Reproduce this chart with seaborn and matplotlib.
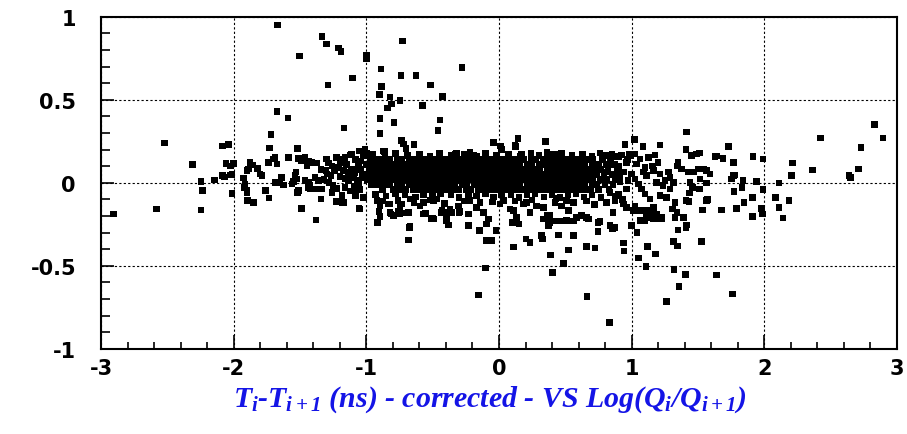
import matplotlib
matplotlib.use("Agg")
import matplotlib.pyplot as plt
from matplotlib.ticker import MultipleLocator, FixedLocator
import seaborn as sns
import pandas as pd

# ---------------- data ----------------
x_ticks = [-3, -2, -1, 0, 1, 2, 3]
x_tick_labels = ["-3", "-2", "-1", "0", "1", "2", "3"]
y_ticks = [-1, -0.5, 0, 0.5, 1]
y_tick_labels = ["-1", "-0.5", "0", "0.5", "1"]
x_label = r"$T_i$-$T_{i+1}$ (ns) - corrected - VS Log($Q_i$/$Q_{i+1}$)"

# dense central band: rows of points (y level -> x positions)
core_rows = {
    0.14: [-0.97, -0.92, -0.87, -0.82, -0.77, -0.73, -0.68, -0.64, -0.59, -0.55, -0.50, -0.46, -0.42, -0.37,
           -0.33, -0.29, -0.24, -0.20, -0.16, -0.11, -0.07, -0.03, 0.02, 0.06, 0.10, 0.15, 0.19, 0.24, 0.28,
           0.33, 0.37, 0.42, 0.46, 0.51, 0.56, 0.61, 0.66, 0.71, 0.78, 0.84],
    0.11: [-1.00, -0.95, -0.91, -0.86, -0.81, -0.77, -0.72, -0.68, -0.63, -0.59, -0.54, -0.50, -0.45, -0.41,
           -0.37, -0.32, -0.28, -0.23, -0.19, -0.15, -0.10, -0.06, -0.02, 0.03, 0.07, 0.12, 0.16, 0.21, 0.25,
           0.30, 0.34, 0.38, 0.43, 0.47, 0.52, 0.56, 0.61, 0.65, 0.70, 0.75, 0.81, 0.87],
    0.08: [-0.98, -0.94, -0.89, -0.84, -0.80, -0.75, -0.71, -0.66, -0.62, -0.57, -0.53, -0.48, -0.44, -0.40,
           -0.35, -0.31, -0.26, -0.22, -0.18, -0.13, -0.09, -0.04, 0.00, 0.05, 0.09, 0.14, 0.18, 0.23, 0.27,
           0.31, 0.36, 0.40, 0.45, 0.49, 0.54, 0.58, 0.63, 0.67, 0.72, 0.77, 0.82, 0.89],
    0.05: [-1.01, -0.96, -0.92, -0.87, -0.83, -0.78, -0.73, -0.69, -0.64, -0.60, -0.55, -0.51, -0.47, -0.42,
           -0.38, -0.33, -0.29, -0.25, -0.20, -0.16, -0.11, -0.07, -0.03, 0.02, 0.06, 0.11, 0.15, 0.20, 0.24,
           0.29, 0.33, 0.38, 0.42, 0.47, 0.51, 0.56, 0.60, 0.65, 0.69, 0.74, 0.79, 0.85, 0.91],
    0.02: [-0.99, -0.95, -0.90, -0.85, -0.81, -0.76, -0.72, -0.67, -0.63, -0.58, -0.54, -0.49, -0.45, -0.41,
           -0.36, -0.32, -0.27, -0.23, -0.19, -0.14, -0.10, -0.05, -0.01, 0.04, 0.08, 0.13, 0.17, 0.22, 0.26,
           0.31, 0.35, 0.39, 0.44, 0.48, 0.53, 0.57, 0.62, 0.66, 0.71, 0.76, 0.81, 0.88],
    -0.01: [-0.96, -0.91, -0.86, -0.82, -0.77, -0.73, -0.68, -0.64, -0.59, -0.55, -0.50, -0.46, -0.41, -0.37,
            -0.33, -0.28, -0.24, -0.19, -0.15, -0.11, -0.06, -0.02, 0.03, 0.07, 0.12, 0.16, 0.21, 0.25, 0.29,
            0.34, 0.38, 0.43, 0.47, 0.52, 0.56, 0.61, 0.65, 0.70, 0.74, 0.80, 0.86],
    -0.04: [-0.88, -0.80, -0.75, -0.70, -0.65, -0.61, -0.56, -0.52, -0.47, -0.43, -0.38, -0.34, -0.30, -0.25,
            -0.21, -0.16, -0.12, -0.08, -0.03, 0.01, 0.06, 0.10, 0.15, 0.19, 0.23, 0.28, 0.32, 0.37, 0.41,
            0.46, 0.50, 0.55, 0.59, 0.64, 0.69, 0.75, 0.83],
}

# ragged edges of the band
edge_pts = [
    (-0.95, 0.17), (-0.86, 0.16), (-0.78, 0.175), (-0.69, 0.165), (-0.60, 0.17), (-0.52, 0.16), (-0.45, 0.175),
    (-0.36, 0.165), (-0.26, 0.17), (-0.17, 0.16), (-0.10, 0.175), (-0.02, 0.165), (0.07, 0.17), (0.16, 0.16),
    (0.24, 0.175), (0.30, 0.165), (0.41, 0.17), (0.47, 0.18), (0.55, 0.165), (0.63, 0.17), (0.70, 0.16),
    (0.76, 0.18), (0.84, 0.165), (0.90, 0.155), (0.98, 0.17), (0.97, 0.14),
    (-0.87, 0.19), (-0.32, 0.18), (-0.22, 0.183), (-0.19, 0.167), (0.01, 0.22), (0.12, 0.223), (0.17, 0.173),
    (0.36, 0.183), (0.46, 0.173),
    (-0.93, -0.07), (-0.85, -0.08), (-0.78, -0.065), (-0.71, -0.075), (-0.63, -0.085), (-0.57, -0.07),
    (-0.50, -0.08), (-0.44, -0.065), (-0.36, -0.075), (-0.30, -0.09), (-0.23, -0.07), (-0.17, -0.08),
    (-0.10, -0.065), (-0.04, -0.085), (0.02, -0.075), (0.09, -0.07), (0.15, -0.09), (0.21, -0.075),
    (0.27, -0.065), (0.34, -0.085), (0.40, -0.07), (0.46, -0.09), (0.52, -0.075), (0.58, -0.065),
    (0.64, -0.085), (0.70, -0.075), (0.77, -0.09), (0.88, -0.08),
    (-0.88, -0.11), (-0.64, -0.12), (-0.52, -0.105), (-0.41, -0.125), (-0.26, -0.11), (-0.05, -0.115),
    (0.12, -0.11), (0.25, -0.105), (0.43, -0.095), (0.56, -0.12), (0.66, -0.11), (0.72, -0.13), (0.93, -0.10),
]

# scattered points below the band
lower_pts = [
    (-0.92, -0.108), (-0.897, -0.139), (-0.834, -0.128), (-0.76, -0.108), (-0.733, -0.128), (-0.82, -0.178),
    (-0.796, -0.199), (-0.67, -0.098), (-0.595, -0.139), (-0.57, -0.118), (-0.67, -0.263), (-0.495, -0.108),
    (-0.47, -0.098), (-0.43, -0.169), (-0.37, -0.158), (-0.356, -0.178), (-0.507, -0.215), (-0.394, -0.219),
    (-0.307, -0.139), (-0.294, -0.175), (-0.23, -0.189), (-0.168, -0.148), (-0.143, -0.118), (-0.118, -0.178),
    (-0.08, -0.219), (-0.219, -0.108), (0.008, -0.128), (0.032, -0.108), (0.083, -0.158), (0.108, -0.169),
    (0.133, -0.209), (0.183, -0.128), (0.209, -0.118), (0.234, -0.178), (0.284, -0.139), (0.334, -0.148),
    (0.384, -0.199), (0.422, -0.118), (0.472, -0.139), (0.51, -0.108), (0.522, -0.169),
    (-0.82, -0.128), (-0.746, -0.148), (-0.683, -0.178), (-0.746, -0.189), (-0.57, -0.189), (-0.495, -0.219),
    (-0.093, -0.249), (0.334, -0.219), (0.384, -0.239), (0.372, -0.259), (0.51, -0.229), (0.585, -0.209),
    (0.66, -0.21), (0.745, -0.24), (0.962, -0.148), (1.012, -0.169), (1.063, -0.229), (1.113, -0.209),
    (1.163, -0.148), (1.188, -0.189),
    (-1.055, -0.154), (-1.173, -0.118), (-0.917, -0.239), (-0.897, -0.205), (-0.904, -0.172), (-0.814, -0.189),
    (-0.76, -0.172), (-0.733, -0.183), (-0.676, -0.269), (-0.683, -0.345), (-0.555, -0.187), (-0.50, -0.215),
    (-0.432, -0.178), (-0.394, -0.178), (-0.394, -0.229), (-0.382, -0.255), (-0.30, -0.178), (-0.23, -0.259),
    (-0.148, -0.289), (-0.093, -0.349), (-0.055, -0.349), (-0.023, -0.289), (-0.103, -0.514), (-0.156, -0.676),
    (0.108, -0.387), (0.10, -0.239), (0.15, -0.249), (0.203, -0.339), (0.234, -0.359), (0.32, -0.319),
    (0.326, -0.339), (0.39, -0.436), (0.405, -0.54), (0.447, -0.315), (0.522, -0.404), (0.485, -0.486),
    (0.56, -0.319), (0.66, -0.383), (0.723, -0.393), (0.665, -0.687), (0.748, -0.295), (0.417, -0.23),
    (0.46, -0.232), (0.51, -0.232), (0.56, -0.23), (0.36, -0.199), (0.623, -0.199), (0.673, -0.219),
    (0.761, -0.235), (0.836, -0.259), (0.874, -0.269), (0.861, -0.178),
]

# right-hand cloud and tail
right_pts = [
    (0.81, 0.163), (0.85, 0.173), (0.887, 0.159), (0.925, 0.167), (0.836, 0.113), (0.90, 0.102), (0.962, 0.123),
    (0.81, 0.063), (0.874, 0.052), (0.937, 0.063), (0.799, 0.002), (0.861, -0.008), (0.912, 0.006),
    (0.974, 0.012), (0.836, -0.058), (0.90, -0.068), (0.962, -0.038), (0.81, -0.118), (0.874, -0.108),
    (0.937, -0.128), (1.0, 0.052), (1.025, 0.022), (1.05, -0.008), (1.075, -0.038), (1.10, -0.068),
    (1.138, -0.098), (1.088, 0.063), (1.113, 0.042), (1.163, 0.072), (1.213, 0.052), (1.188, 0.002),
    (1.238, -0.018), (1.289, -0.038), (1.213, -0.078), (1.264, -0.088), (1.326, -0.118), (1.113, -0.169),
    (1.188, -0.219), (1.226, -0.209), (1.063, -0.169), (1.025, -0.139), (1.35, 0.123), (1.34, 0.102),
    (1.377, 0.083), (1.427, 0.063), (1.465, 0.063), (1.50, 0.083), (1.276, 0.063), (1.289, 0.032),
    (1.25, 0.012), (1.314, 0.002), (1.20, 0.123), (1.175, 0.167), (1.125, 0.153), (1.158, 0.102),
    (1.063, 0.143), (1.025, 0.173), (0.99, 0.163), (1.038, 0.113), (1.10, 0.093), (1.46, -0.028),
    (1.51, -0.038), (1.436, -0.062), (1.41, -0.108), (1.565, -0.108), (1.34, -0.178), (1.39, -0.209),
    (1.414, 0.304), (1.02, 0.26), (0.95, 0.229), (1.087, 0.217), (1.213, 0.227), (1.728, 0.217),
    (1.916, 0.157), (1.99, 0.143), (1.41, 0.199), (1.51, 0.179), (1.64, 0.161), (1.69, 0.147),
    (1.49, 0.173), (1.452, 0.163), (1.628, 0.159), (1.766, 0.123), (1.565, 0.072), (1.59, 0.052),
    (1.54, 0.083), (1.766, 0.042), (1.753, 0.022),
    (2.83, 0.35), (2.896, 0.269), (2.424, 0.269), (2.728, 0.213), (2.213, 0.119), (2.364, 0.077),
    (2.708, 0.083), (2.64, 0.042), (2.65, 0.03), (2.205, 0.042),
    (2.11, -0.002), (2.085, -0.088), (2.186, -0.108), (2.11, -0.148), (2.14, -0.213), (1.99, -0.042),
    (1.98, -0.154), (1.985, -0.189), (1.91, -0.205), (1.94, 0.008), (1.846, -0.118), (1.79, -0.154),
    (1.91, -0.088), (1.83, -0.028), (1.77, -0.054), (1.78, 0.046), (1.84, 0.012), (1.678, -0.163),
    (1.573, -0.102), (1.535, -0.164), (1.528, -0.353), (1.64, -0.556), (1.76, -0.67), (1.414, -0.255),
    (1.41, -0.269), (1.35, -0.285), (1.314, -0.355), (1.347, -0.38), (1.32, -0.524), (1.407, -0.554),
    (1.357, -0.624), (1.264, -0.717), (1.12, -0.385), (1.18, -0.43), (1.05, -0.455), (1.108, -0.504),
    (0.937, -0.363), (0.942, -0.41), (0.833, -0.841), (1.04, -0.30), (1.0, -0.259), (0.857, -0.275),
    (1.095, -0.229), (1.163, -0.215), (1.226, -0.215), (1.133, -0.189), (1.306, -0.158), (1.326, -0.209),
    (1.432, -0.112), (1.44, 0.002), (1.464, -0.028), (1.565, -0.002), (1.515, 0.022),
]

# left-hand cloud
left_pts = [
    (-2.906, -0.189), (-2.58, -0.158), (-2.245, -0.163), (-2.233, -0.048), (-2.248, 0.006), (-2.145, 0.016),
    (-2.085, 0.042), (-2.07, 0.033), (-2.027, 0.046), (-2.014, -0.064), (-1.92, -0.028), (-1.90, -0.062),
    (-1.894, -0.108), (-1.85, -0.118), (-1.763, -0.048), (-1.733, -0.092), (-1.688, 0.002), (-1.65, 0.002),
    (-1.625, -0.014), (-1.562, -0.008), (-1.517, -0.058), (-1.487, -0.154), (-1.437, -0.028), (-1.424, -0.038),
    (-1.387, 0.03), (-1.381, -0.225), (-1.341, -0.098), (-1.336, -0.038), (-1.23, -0.112), (-1.178, -0.118),
    (-1.185, -0.078), (-1.537, 0.042), (-2.057, 0.117), (-2.022, 0.102), (-2.002, 0.117), (-2.014, 0.048),
    (-1.927, 0.027), (-1.914, -0.008), (-1.901, -0.048), (-1.876, 0.123), (-1.856, 0.107), (-1.821, 0.087),
    (-1.889, 0.083), (-1.901, 0.072), (-1.80, 0.052), (-1.788, 0.042), (-1.756, -0.048), (-1.739, 0.123),
    (-1.688, 0.153), (-1.675, 0.113), (-1.70, 0.143), (-1.663, 0.002), (-1.638, 0.032), (-1.588, 0.153),
    (-1.52, 0.207), (-1.512, 0.147), (-1.487, 0.133), (-1.462, 0.153), (-1.437, 0.127), (-1.449, 0.102),
    (-1.411, 0.123), (-1.374, 0.119), (-1.53, 0.063), (-1.55, 0.006), (-1.525, 0.022), (-1.512, -0.048),
    (-1.462, 0.012), (-1.437, 0.002), (-1.424, -0.018), (-1.362, 0.012), (-1.374, -0.038), (-1.30, 0.143),
    (-1.286, 0.119), (-1.303, 0.072), (-1.298, 0.052), (-1.265, 0.042), (-1.25, -0.018), (-1.223, -0.034),
    (-1.223, 0.153), (-1.185, 0.143), (-1.16, 0.153), (-1.123, 0.167), (-1.21, 0.093), (-1.173, 0.072),
    (-1.135, 0.063), (-1.11, 0.083), (-1.198, 0.038), (-1.16, 0.026), (-1.135, 0.012), (-1.097, 0.032),
    (-1.072, 0.012), (-1.047, -0.158), (-1.09, -0.02), (-1.06, 0.0), (-1.05, -0.04), (-1.03, 0.05),
    (-1.06, 0.10), (-1.04, 0.13), (-1.02, 0.16), (-1.0, 0.18), (-1.08, -0.08), (-1.02, -0.09), (-1.10, -0.05),
    (-1.26, 0.10), (-1.24, 0.07), (-1.20, 0.12), (-1.15, 0.11), (-1.13, 0.04), (-1.09, 0.06), (-1.08, 0.14),
    (-1.04, 0.08), (-1.03, 0.03), (-1.07, -0.03), (-1.12, -0.05), (-1.16, -0.03), (-1.26, -0.06),
    (-1.28, 0.0), (-1.32, 0.02), (-1.34, 0.08), (-1.11, 0.17), (-1.05, 0.19), (-1.01, 0.20),
]

# isolated points well above the band
upper_pts = [
    (-1.67, 0.95), (-1.505, 0.763), (-1.336, 0.882), (-1.30, 0.837), (-1.21, 0.81), (-1.19, 0.79),
    (-1.105, 0.63), (-1.29, 0.59), (-1.0, 0.745), (-1.0, 0.765), (-0.726, 0.855), (-0.89, 0.685),
    (-0.74, 0.645), (-0.625, 0.645), (-0.28, 0.695), (-0.885, 0.58), (-0.90, 0.53), (-0.82, 0.515),
    (-0.746, 0.494), (-0.81, 0.474), (-0.84, 0.45), (-0.515, 0.59), (-0.425, 0.52), (-0.575, 0.464),
    (-1.675, 0.43), (-1.59, 0.39), (-0.897, 0.388), (-0.79, 0.364), (-0.445, 0.378), (-1.17, 0.33),
    (-0.46, 0.313), (-0.897, 0.297), (-1.72, 0.29), (-0.733, 0.253), (-0.72, 0.233), (-0.64, 0.229),
    (-0.70, 0.207), (-0.864, 0.187), (-2.52, 0.24), (-1.73, 0.21), (-1.515, 0.21), (-2.085, 0.22),
    (-2.04, 0.23), (-2.31, 0.11), (-0.043, 0.243), (0.145, 0.267), (0.126, 0.219), (0.352, 0.249),
    (0.02, 0.199), (-0.33, 0.173),
]

# ---------------- assemble ----------------
xs, ys = [], []
for yl, row in core_rows.items():
    xs += row
    ys += [yl] * len(row)
for group in (edge_pts, lower_pts, right_pts, left_pts, upper_pts):
    xs += [p[0] for p in group]
    ys += [p[1] for p in group]
df = pd.DataFrame({"x": xs, "y": ys})

# ---------------- plot ----------------
sns.set_theme(style="white")
plt.rcParams["font.family"] = ["DejaVu Sans"]
plt.rcParams["mathtext.fontset"] = "custom"
plt.rcParams["mathtext.it"] = "Liberation Serif:italic:bold"
plt.rcParams["mathtext.rm"] = "Liberation Serif:italic:bold"
plt.rcParams["mathtext.bf"] = "Liberation Serif:italic:bold"

fig = plt.figure(figsize=(9.07, 4.35), dpi=100)
fig.patch.set_facecolor("white")
ax = fig.add_axes([101 / 907, 1 - 349.7 / 435, 796 / 907, 332 / 435])
ax.set_facecolor("white")

sns.scatterplot(data=df, x="x", y="y", ax=ax, marker="s", s=22, color="black",
                linewidth=0, edgecolor="none", legend=False, zorder=3)

ax.set_xlim(-3, 3)
ax.set_ylim(-1, 1)

ax.xaxis.set_major_locator(FixedLocator(x_ticks))
ax.yaxis.set_major_locator(FixedLocator(y_ticks))
ax.set_xticklabels(x_tick_labels)
ax.set_yticklabels(y_tick_labels)
ax.xaxis.set_minor_locator(MultipleLocator(0.2))
ax.yaxis.set_minor_locator(MultipleLocator(0.1))

for lab in ax.get_xticklabels() + ax.get_yticklabels():
    lab.set_fontweight("bold")
    lab.set_fontsize(15)
    lab.set_color("black")

ax.tick_params(axis="x", which="major", direction="in", length=10, width=1.2, color="black",
               bottom=True, top=False, pad=7)
ax.tick_params(axis="x", which="minor", direction="in", length=5, width=1.2, color="black",
               bottom=True, top=False)
ax.tick_params(axis="y", which="major", direction="in", length=9, width=1.2, color="black",
               left=True, right=False, pad=18)
ax.tick_params(axis="y", which="minor", direction="in", length=6.5, width=1.2, color="black",
               left=True, right=False)

ax.grid(True, which="major", color="black", linestyle=(0, (2, 2)), linewidth=0.8, zorder=1)
ax.set_axisbelow(True)

for sp in ax.spines.values():
    sp.set_visible(True)
    sp.set_color("black")
    sp.set_linewidth(1.5)

ax.set_ylabel("")
ax.set_xlabel(x_label, fontsize=21.5, color="#1414e6", family="Liberation Serif",
              fontweight="bold", fontstyle="italic")
ax.xaxis.set_label_coords(0.489, -0.105)

fig.savefig("out.png", dpi=100, facecolor="white")
